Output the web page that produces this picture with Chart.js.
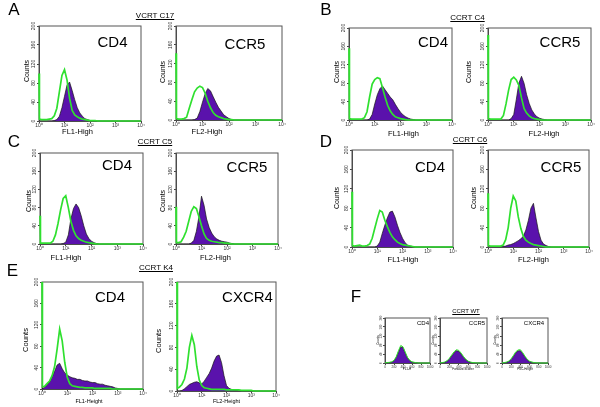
<!DOCTYPE html>
<html>
<head>
<meta charset="utf-8">
<script src="https://cdn.jsdelivr.net/npm/chart.js@4.4.1/dist/chart.umd.min.js"></script>
<style>
  body { margin: 0; background: #fff; }
  #fig { position: relative; width: 600px; height: 407px; overflow: hidden;
         font-family: "Liberation Sans", Arial, sans-serif; background: #fff; }
  #fig canvas { position: absolute; }
  .t { position: absolute; white-space: nowrap; color: #000; line-height: 1; }
</style>
</head>
<body>
<div id="fig"></div>
<script>
// channel positions (log scale, 10 per decade plus the pile-up channel)
const logBins = [1, 1.04, 1.26, 1.58, 2, 2.51, 3.16, 3.98, 5.01, 6.31, 7.94,
  10, 12.6, 15.8, 20, 25.1, 31.6, 39.8, 50.1, 63.1, 79.4,
  100, 126, 158, 200, 251, 316, 398, 501, 631, 794,
  1000, 1260, 1580, 2000, 2510, 3160, 3980, 5010, 6310, 7940, 10000];
const linBins = [0, 50, 100, 150, 200, 250, 300, 350, 400, 450, 500,
  550, 600, 650, 700, 750, 800, 850, 900, 950, 1000];

const logTicks = [1, 10, 100, 1000, 10000];
const logTickLabels = ['10\u2070', '10\u00b9', '10\u00b2', '10\u00b3', '10\u2074'];
const countTicks = [0, 40, 80, 120, 160, 200];
const linTicks = [0, 200, 400, 600, 800, 1000];

// A  VCRT C17
const aCd4Iso = [100,4,3,3,3,4,5,11,27,62,96, 108,86,48,22,13,9,6,4,3,2, 1,1,1,0,0,0,0,0,0,0, 0,0,0,0,0,0,0,0,0,0, 0];
const aCd4    = [0,0,0,0,0,0,0,1,3,10,28, 52,76,82,64,45,28,17,10,5,3, 1,0,0,0,0,0,0,0,0,0, 0,0,0,0,0,0,0,0,0,0, 0];
const aCcr5Iso = [142,3,2,2,3,6,25,43,60,68,72, 69,57,40,26,16,10,7,5,3,2, 1,1,0,0,0,0,0,0,0,0, 0,0,0,0,0,0,0,0,0,0, 0];
const aCcr5    = [0,0,0,0,0,0,0,0,1,4,18, 38,56,67,62,50,38,27,19,11,7, 3,1,0,0,0,0,0,0,0,0, 0,0,0,0,0,0,0,0,0,0, 0];
// B  CCRT C4
const bCd4Iso = [156,3,2,2,2,2,2,5,18,50,78, 88,92,90,70,50,32,20,12,7,5, 3,2,1,0,0,0,0,0,0,0, 0,0,0,0,0,0,0,0,0,0, 0];
const bCd4    = [0,0,0,0,0,0,0,0,0,2,12, 35,55,68,74,66,58,50,44,34,25, 17,11,7,4,2,1,0,0,0,0, 0,0,0,0,0,0,0,0,0,0, 0];
const bCcr5Iso = [185,3,2,2,2,2,2,10,35,65,88, 93,87,75,48,25,15,9,5,3,2, 1,0,0,0,0,0,0,0,0,0, 0,0,0,0,0,0,0,0,0,0, 0];
const bCcr5    = [0,0,0,0,0,0,0,0,0,0,3, 12,45,80,95,80,55,36,22,13,7, 4,2,1,0,0,0,0,0,0,0, 0,0,0,0,0,0,0,0,0,0, 0];
// C  CCRT C5
const cCd4Iso = [62,2,2,2,2,2,6,20,45,75,100, 106,80,50,30,18,12,8,6,4,3, 2,1,0,0,0,0,0,0,0,0, 0,0,0,0,0,0,0,0,0,0, 0];
const cCd4    = [0,0,0,0,0,0,0,0,0,0,1, 4,20,55,78,88,80,62,40,22,12, 6,3,1,0,0,0,0,0,0,0, 0,0,0,0,0,0,0,0,0,0, 0];
const cCcr5Iso = [82,3,3,5,15,28,50,72,82,78,60, 40,22,12,8,6,5,4,3,3,2, 2,1,0,0,0,0,0,0,0,0, 0,0,0,0,0,0,0,0,0,0, 0];
const cCcr5    = [0,0,0,0,0,0,0,2,8,28,60, 105,85,55,36,24,16,11,8,6,5, 4,2,1,0,0,0,0,0,0,0, 0,0,0,0,0,0,0,0,0,0, 0];
// D  CCRT C6
const dCd4Iso = [114,3,2,3,4,2,2,3,6,18,38, 58,75,72,55,42,30,21,15,10,7, 5,4,3,2,1,0,0,0,0,0, 0,0,0,0,0,0,0,0,0,0, 0];
const dCd4    = [0,0,0,0,0,0,0,0,0,0,0, 2,10,28,45,60,72,74,62,45,30, 18,9,4,2,1,0,0,0,0,0, 0,0,0,0,0,0,0,0,0,0, 0];
const dCcr5Iso = [111,3,2,2,2,2,2,4,15,40,80, 105,95,62,38,22,14,10,7,5,4, 3,2,1,0,0,0,0,0,0,0, 0,0,0,0,0,0,0,0,0,0, 0];
const dCcr5    = [0,0,0,0,0,0,0,1,2,4,5, 7,10,13,17,22,35,55,80,90,60, 32,14,6,3,1,0,0,0,0,0, 0,0,0,0,0,0,0,0,0,0, 0];
// E  CCRT K4
const eCd4Iso = [210,4,5,10,15,25,42,75,112,90,50, 22,10,6,5,4,3,3,2,2,2, 2,1,1,1,1,1,1,1,0,0, 0,0,0,0,0,0,0,0,0,0, 0];
const eCd4    = [0,1,3,7,13,22,33,45,48,38,30, 26,23,21,20,18,18,16,15,15,13, 12,12,10,9,9,7,6,5,4,2, 1,0,0,0,0,0,0,0,0,0, 0];
const eCxcr4Iso = [210,5,7,12,22,42,80,102,85,45,20, 10,6,5,4,3,3,3,3,3,3, 2,2,2,2,2,2,1,1,1,1, 1,0,0,0,0,0,0,0,0,0, 0];
const eCxcr4    = [0,0,0,1,4,8,12,14,16,17,15, 13,18,25,32,42,55,64,66,52,28, 10,5,3,2,1,0,0,0,0,0, 0,0,0,0,0,0,0,0,0,0, 0];
// F  CCRT WT (linear channels)
const fCd4Iso   = [1,2,3,5,12,28,55,78,72,48,25,12,5,3,1,0,0,0,0,0,0];
const fCd4      = [0,1,2,4,10,25,50,72,68,45,22,10,4,2,1,0,0,0,0,0,0];
const fCcr5Iso  = [1,2,4,10,21,36,50,59,56,44,29,16,8,4,2,1,0,0,0,0,0];
const fCcr5     = [0,1,3,8,18,32,45,55,52,40,26,14,7,3,1,0,0,0,0,0,0];
const fCxcr4Iso = [1,2,4,9,19,34,50,58,59,46,30,16,8,4,2,1,0,0,0,0,0];
const fCxcr4    = [0,1,3,7,16,30,46,54,55,42,27,14,6,3,1,0,0,0,0,0,0];

const PURPLE = '#5a12ac';
const GREEN = '#2fe02f';
const fig = document.getElementById('fig');

function text(str, cx, cy, size, opt) {
  opt = opt || {};
  const d = document.createElement('div');
  d.className = 't';
  d.textContent = str;
  d.style.left = cx + 'px';
  d.style.top = cy + 'px';
  d.style.fontSize = size + 'px';
  d.style.transform = 'translate(-50%,-50%)' + (opt.rot ? ' rotate(-90deg)' : '');
  if (opt.underline) { d.style.textDecoration = 'underline'; d.style.textUnderlineOffset = '1px'; }
  fig.appendChild(d);
}

// box frame + rotated count labels, drawn under the histograms
const framePlugin = {
  id: 'frame',
  beforeDatasetsDraw(chart, args, o) {
    const a = chart.chartArea, ctx = chart.ctx, y = chart.scales.y;
    ctx.save();
    ctx.strokeStyle = '#555';
    ctx.lineWidth = 1;
    ctx.strokeRect(a.left, a.top, a.right - a.left, a.bottom - a.top);
    ctx.fillStyle = '#333';
    ctx.font = o.size + 'px "Liberation Sans", Arial, sans-serif';
    ctx.textAlign = 'center';
    ctx.textBaseline = 'bottom';
    o.ticks.forEach(v => {
      ctx.save();
      ctx.translate(a.left - o.gap, y.getPixelForValue(v));
      ctx.rotate(-Math.PI / 2);
      ctx.fillText(String(v), 0, 0);
      ctx.restore();
    });
    ctx.restore();
  }
};

function plot(p) {
  const [l, t, r, b] = p.box;
  const small = !p.log;
  const padL = small ? 10 : 16, padT = 4, padR = 8, padB = small ? 7 : 11;
  const w = r - l + padL + padR, h = b - t + padT + padB;
  const cv = document.createElement('canvas');
  cv.width = w; cv.height = h;
  cv.style.left = (l - padL) + 'px';
  cv.style.top = (t - padT) + 'px';
  cv.style.width = w + 'px'; cv.style.height = h + 'px';
  fig.appendChild(cv);
  const bins = p.log ? logBins : linBins;
  const xTicks = p.log ? logTicks : linTicks;
  const tickFont = small ? 3 : 5;
  new Chart(cv, {
    type: 'line',
    data: {
      datasets: [{
        data: bins.map((x, i) => ({ x: x, y: p.iso[i] })),
        borderColor: GREEN, borderWidth: small ? 1 : 1.7,
        pointRadius: 0, fill: false, order: 1,
        clip: { left: 2, top: 0, right: 0, bottom: 2 }
      }, {
        data: bins.map((x, i) => ({ x: x, y: p.stain[i] })),
        borderColor: '#161616', borderWidth: 0.7, backgroundColor: PURPLE,
        pointRadius: 0, fill: 'origin', order: 2
      }]
    },
    options: {
      responsive: false, animation: false, devicePixelRatio: 1,
      layout: { padding: { left: 0, top: padT, right: padR, bottom: 0 } },
      plugins: {
        legend: { display: false }, tooltip: { enabled: false },
        frame: { ticks: countTicks, size: tickFont, gap: small ? 2 : 3 }
      },
      scales: {
        x: {
          type: p.log ? 'logarithmic' : 'linear',
          min: xTicks[0], max: xTicks[xTicks.length - 1],
          afterBuildTicks: s => { s.ticks = xTicks.map(v => ({ value: v })); },
          afterFit: s => { s.height = padB; },
          grid: { drawOnChartArea: false, tickLength: 2, color: '#444' },
          border: { color: '#444' },
          ticks: {
            autoSkip: false, maxRotation: 0, minRotation: 0, padding: 0,
            color: '#333', font: { size: tickFont, family: 'Liberation Sans' },
            callback: v => p.log ? logTickLabels[logTicks.indexOf(v)] : String(v)
          }
        },
        y: {
          min: 0, max: 200,
          afterBuildTicks: s => { s.ticks = countTicks.map(v => ({ value: v })); },
          afterFit: s => { s.width = padL; },
          grid: { drawOnChartArea: false, tickLength: 2, color: '#444' },
          border: { color: '#444' },
          ticks: { display: false }
        }
      }
    },
    plugins: [framePlugin]
  });
  const fs = small ? 6 : 15;
  text(p.name, p.namePos[0], p.namePos[1], fs);
  text('Counts', p.countsPos[0], p.countsPos[1], small ? 3 : (p.big ? 7.5 : 7), { rot: true });
  text(p.xTitle, p.xTitlePos[0], p.xTitlePos[1], small ? 3 : (p.big ? 5.5 : 7.5));
}

const plots = [
  { box: [39, 26, 141, 121], iso: aCd4Iso, stain: aCd4, log: true, name: 'CD4', namePos: [112.5, 41],
    xTitle: 'FL1-High', xTitlePos: [77.5, 132], countsPos: [25.5, 71] },
  { box: [176, 26, 282, 120], iso: aCcr5Iso, stain: aCcr5, log: true, name: 'CCR5', namePos: [245, 43],
    xTitle: 'FL2-High', xTitlePos: [207, 132], countsPos: [161.5, 72] },
  { box: [349, 28, 452, 120], iso: bCd4Iso, stain: bCd4, log: true, name: 'CD4', namePos: [433, 41],
    xTitle: 'FL1-High', xTitlePos: [403.5, 134], countsPos: [336, 72] },
  { box: [488, 28, 591, 120], iso: bCcr5Iso, stain: bCcr5, log: true, name: 'CCR5', namePos: [560, 41],
    xTitle: 'FL2-High', xTitlePos: [544, 134], countsPos: [468, 72] },
  { box: [40, 153, 143, 244], iso: cCd4Iso, stain: cCd4, log: true, name: 'CD4', namePos: [117, 164],
    xTitle: 'FL1-High', xTitlePos: [66, 258], countsPos: [28, 201] },
  { box: [176, 153, 278, 244], iso: cCcr5Iso, stain: cCcr5, log: true, name: 'CCR5', namePos: [247, 166],
    xTitle: 'FL2-High', xTitlePos: [215.5, 258], countsPos: [161.5, 201] },
  { box: [352, 150, 453, 247], iso: dCd4Iso, stain: dCd4, log: true, name: 'CD4', namePos: [430, 166],
    xTitle: 'FL1-High', xTitlePos: [403, 260], countsPos: [335.5, 198] },
  { box: [488, 150, 589, 247], iso: dCcr5Iso, stain: dCcr5, log: true, name: 'CCR5', namePos: [561, 166],
    xTitle: 'FL2-High', xTitlePos: [533.5, 260], countsPos: [472.5, 198] },
  { box: [42, 282, 143, 389], iso: eCd4Iso, stain: eCd4, log: true, big: true, name: 'CD4', namePos: [110, 296],
    xTitle: 'FL1-Height', xTitlePos: [89, 402], countsPos: [26, 340] },
  { box: [177, 282, 276, 391], iso: eCxcr4Iso, stain: eCxcr4, log: true, big: true, name: 'CXCR4', namePos: [247.5, 296],
    xTitle: 'FL2-Height', xTitlePos: [226.5, 402], countsPos: [159, 341] },
  { box: [385, 318, 430, 363], iso: fCd4Iso, stain: fCd4, log: false, name: 'CD4', namePos: [423, 323],
    xTitle: 'FL1-H', xTitlePos: [407, 368.5], countsPos: [378, 340] },
  { box: [440, 318, 487, 363], iso: fCcr5Iso, stain: fCcr5, log: false, name: 'CCR5', namePos: [477, 323],
    xTitle: 'Forward Scatter', xTitlePos: [463, 368.5], countsPos: [433, 340] },
  { box: [502, 318, 548, 363], iso: fCxcr4Iso, stain: fCxcr4, log: false, name: 'CXCR4', namePos: [534, 323],
    xTitle: 'FSC-Height', xTitlePos: [525, 368.5], countsPos: [495, 340] }
];
plots.forEach(plot);

// panel letters
text('A', 14, 9, 17);
text('B', 326, 9, 17);
text('C', 14, 141, 17);
text('D', 326, 141, 17);
text('E', 12.5, 270, 17);
text('F', 356, 295.5, 17);

// sample titles
text('VCRT C17', 155, 16, 8, { underline: true });
text('CCRT C4', 467.5, 18, 8, { underline: true });
text('CCRT C5', 155, 141.5, 8, { underline: true });
text('CCRT C6', 470, 140, 8, { underline: true });
text('CCRT K4', 156, 267.5, 8, { underline: true });
text('CCRT WT', 466, 310.5, 6, { underline: true });
</script>
</body>
</html>
